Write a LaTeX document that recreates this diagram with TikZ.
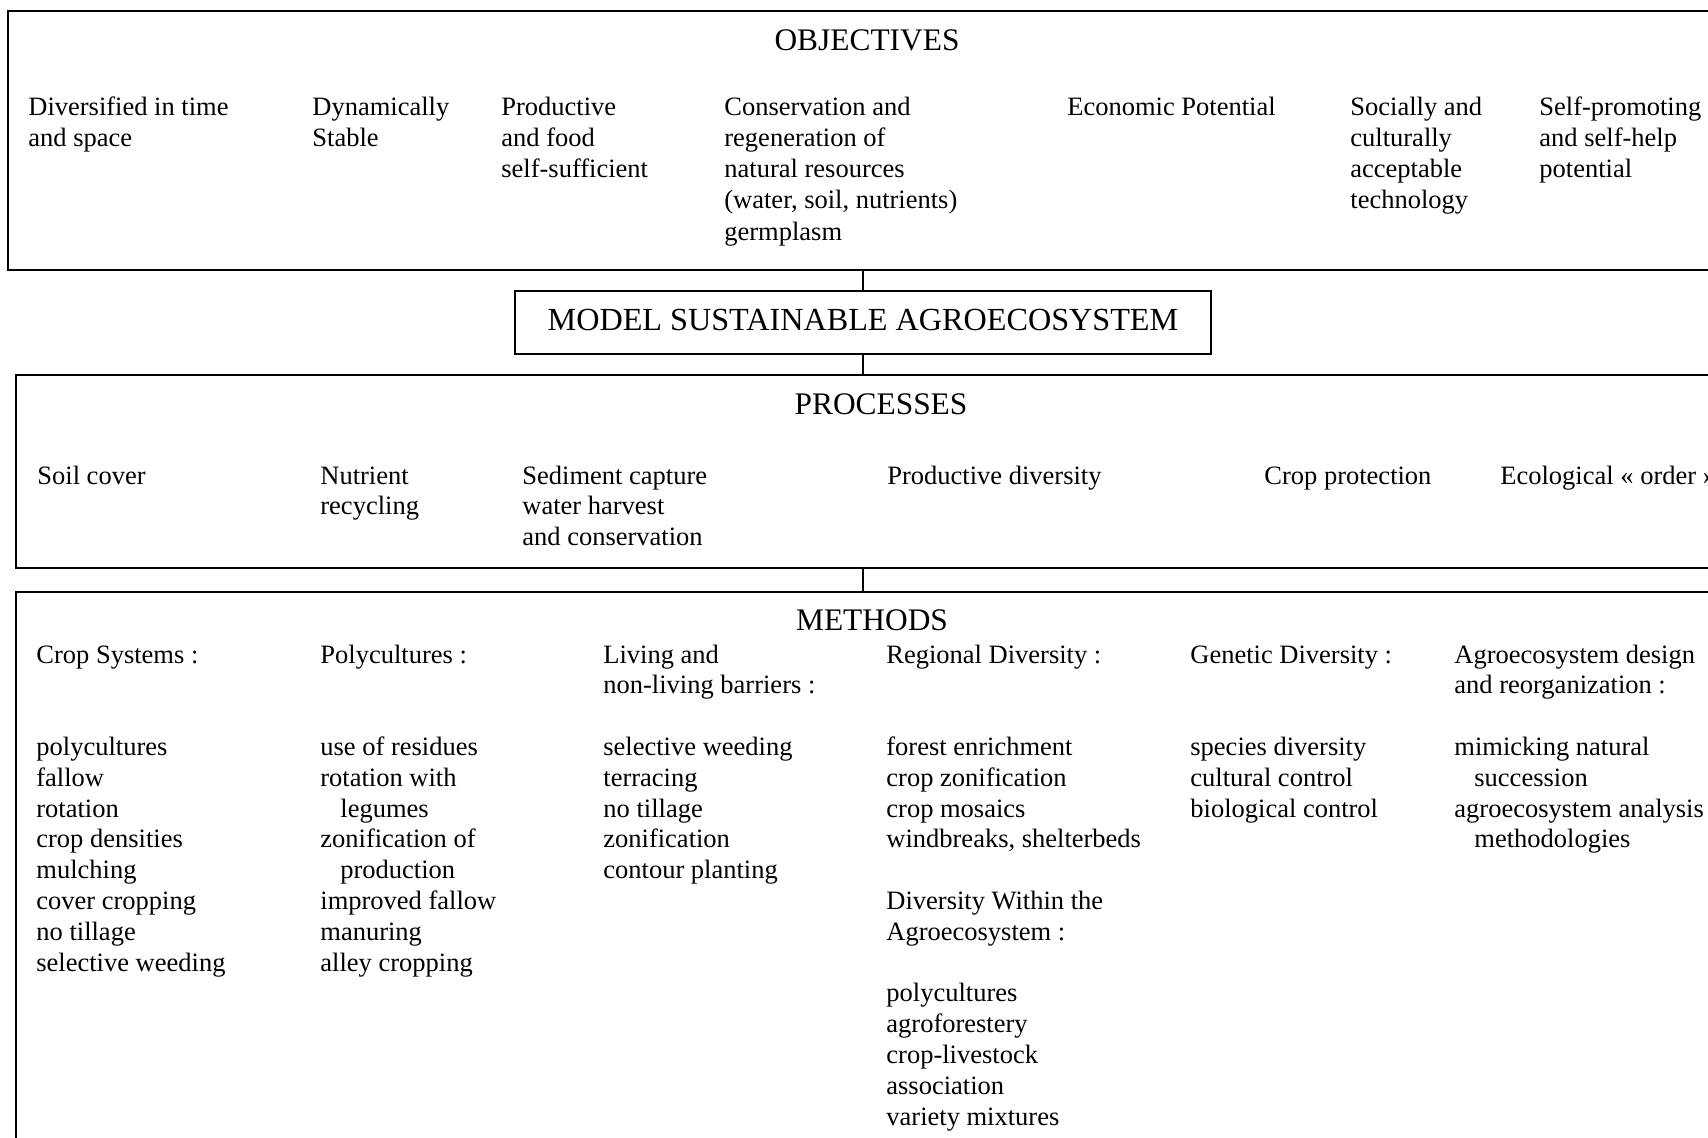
\documentclass[tikz,border=0pt]{standalone}
\usepackage{fontspec}
\setmainfont{Liberation Serif}
% left-aligned block of lines whose baseline is the first line
\newcommand\colstack[1]{\begin{tabular}[t]{@{}l@{}}#1\end{tabular}}
\newcommand\ind{\hspace*{10pt}}
\begin{document}
\begin{tikzpicture}[x=0.5pt,y=-0.5pt,
  frame/.style={draw, line width=1pt, rectangle, inner sep=0pt, anchor=north west},
  heading/.style={anchor=base, inner sep=0pt, font=\fontsize{15.7pt}{18pt}\selectfont},
  entry/.style={anchor=base west, inner sep=0pt, font=\fontsize{13.25pt}{15.4pt}\selectfont},
  wide entry/.style={entry, font=\fontsize{13.25pt}{15.65pt}\selectfont},
  link/.style={line width=1pt}]
\useasboundingbox (0,0) rectangle (1708,1137);
\clip (0,0) rectangle (1708,1137);
\fill[white] (0,0) rectangle (1708,1137);

% ---- frames ----
\node[frame, minimum width=861.5pt, minimum height=129.5pt] (obj) at (7,10) {};
\node[draw, line width=1pt, rectangle, inner sep=0pt, minimum width=348pt, minimum height=31.5pt,
      text depth=2.2pt, font=\fontsize{16.1pt}{19pt}\selectfont] (model) at (863,322.5) {MODEL SUSTAINABLE AGROECOSYSTEM};
\node[frame, minimum width=857.5pt, minimum height=96.5pt] (proc) at (15,374) {};
\node[frame, minimum width=857.5pt, minimum height=290pt] (meth) at (15,591) {};

% ---- connectors ----
\draw[link] (obj.south -| model.north) -- (model.north);
\draw[link] (model.south) -- (model.south |- proc.north);
\draw[link] (proc.south -| model.south) -- (model.south |- meth.north);

% ---- objectives ----
\node[heading] (objT) at (867,50) {OBJECTIVES};
\node[wide entry] (o1) at (28,115) {\colstack{Diversified in time\\and space}};
\node[wide entry] (o2) at (312,115) {\colstack{Dynamically\\Stable}};
\node[wide entry] (o3) at (501,115) {\colstack{Productive\\and food\\self-sufficient}};
\node[wide entry] (o4) at (724,115) {\colstack{Conservation and\\regeneration of\\natural resources\\(water, soil, nutrients)\\germplasm}};
\node[wide entry] (o5) at (1067,115) {Economic Potential};
\node[wide entry] (o6) at (1350,115) {\colstack{Socially and\\culturally\\acceptable\\technology}};
\node[wide entry] (o7) at (1539,115) {\colstack{Self-promoting\\and self-help\\potential}};

% ---- processes ----
\node[heading] (procT) at (881,414) {PROCESSES};
\node[entry] (p1) at (37,484) {Soil cover};
\node[entry] (p2) at (320,484) {\colstack{Nutrient\\recycling}};
\node[entry] (p3) at (522,484) {\colstack{Sediment capture\\water harvest\\and conservation}};
\node[entry] (p4) at (887,484) {Productive diversity};
\node[entry] (p5) at (1264,484) {Crop protection};
\node[entry] (p6) at (1500,484) {Ecological « order »};

% ---- methods ----
\node[heading] (methT) at (872,630) {METHODS};
\node[entry] (m1) at (36,663) {\colstack{Crop Systems :\\ \\ \\polycultures\\fallow\\rotation\\crop densities\\mulching\\cover cropping\\no tillage\\selective weeding}};
\node[entry] (m2) at (320,663) {\colstack{Polycultures :\\ \\ \\use of residues\\rotation with\\\ind legumes\\zonification of\\\ind production\\improved fallow\\manuring\\alley cropping}};
\node[entry] (m3) at (603,663) {\colstack{Living and\\non-living barriers :\\ \\selective weeding\\terracing\\no tillage\\zonification\\contour planting}};
\node[entry] (m4) at (886,663) {\colstack{Regional Diversity :\\ \\ \\forest enrichment\\crop zonification\\crop mosaics\\windbreaks, shelterbeds\\ \\Diversity Within the\\Agroecosystem :\\ \\polycultures\\agroforestery\\crop-livestock\\association\\variety mixtures}};
\node[entry] (m5) at (1190,663) {\colstack{Genetic Diversity :\\ \\ \\species diversity\\cultural control\\biological control}};
\node[entry] (m6) at (1454,663) {\colstack{Agroecosystem design\\and reorganization :\\ \\mimicking natural\\\ind succession\\agroecosystem analysis\\\ind methodologies}};
\end{tikzpicture}
\end{document}
